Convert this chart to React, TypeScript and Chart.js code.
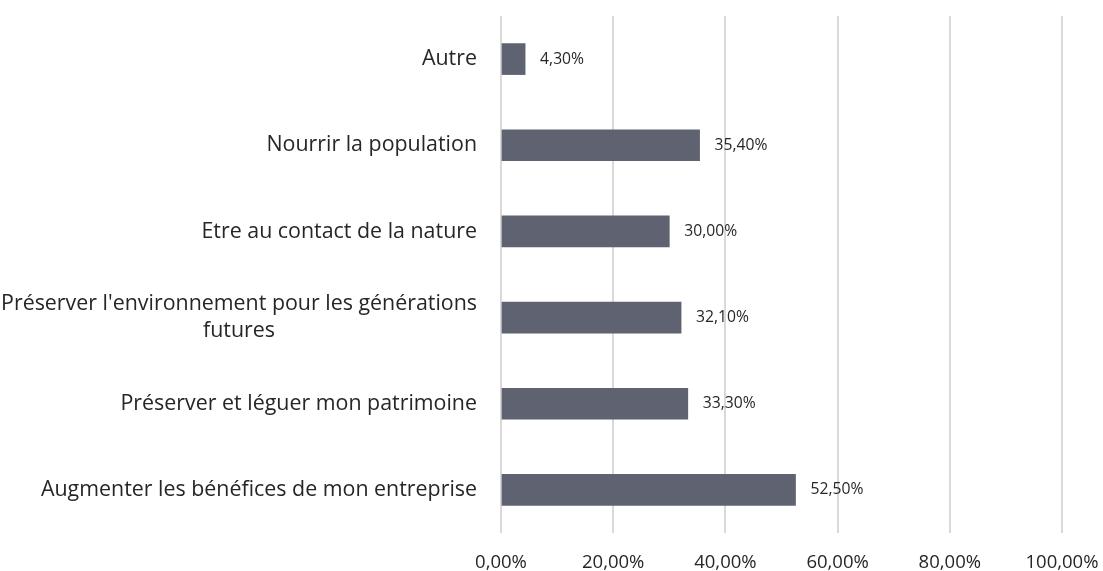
import React, { useEffect, useRef } from "react";
import { Chart, registerables } from "chart.js";

Chart.register(...registerables);

const categories: (string | string[])[] = [
  "Autre",
  "Nourrir la population",
  "Etre au contact de la nature",
  ["Préserver l'environnement pour les générations", "futures"],
  "Préserver et léguer mon patrimoine",
  "Augmenter les bénéfices de mon entreprise",
];

const values: number[] = [4.3, 35.4, 30.0, 32.1, 33.3, 52.5];

const xMin = 0;
const xMax = 100;
const xStep = 20;

const FONT = "'Open Sans', 'DejaVu Sans', sans-serif";
const BAR_COLOR = "#5f6271";
const TEXT_COLOR = "#262626";

const fmt = (v: number) => v.toFixed(2).replace(".", ",") + "%";

const categoryLabelPlugin = {
  id: "categoryLabels",
  afterDraw(chart: any) {
    const { ctx, chartArea } = chart;
    const yScale = chart.scales.y;
    const right = chartArea.left - 24;
    const lineH = 27;
    ctx.save();
    ctx.font = `21.4px ${FONT}`;
    ctx.fillStyle = TEXT_COLOR;
    ctx.textBaseline = "middle";
    categories.forEach((lab, i) => {
      const lines = Array.isArray(lab) ? lab : [lab];
      const cy = yScale.getPixelForValue(i);
      const widths = lines.map((l) => ctx.measureText(l).width);
      const maxW = Math.max(...widths);
      const cx = right - maxW / 2;
      const startY = cy - ((lines.length - 1) * lineH) / 2;
      lines.forEach((l, j) => {
        ctx.textAlign = lines.length > 1 ? "center" : "right";
        ctx.fillText(l, lines.length > 1 ? cx : right, startY + j * lineH);
      });
    });
    ctx.restore();
  },
};

const valueLabelPlugin = {
  id: "valueLabels",
  afterDatasetsDraw(chart: any) {
    const { ctx } = chart;
    const meta = chart.getDatasetMeta(0);
    ctx.save();
    ctx.font = `15.7px ${FONT}`;
    ctx.fillStyle = TEXT_COLOR;
    ctx.textAlign = "left";
    ctx.textBaseline = "middle";
    meta.data.forEach((bar: any, i: number) => {
      ctx.fillText(fmt(values[i]), bar.x + 15, bar.y);
    });
    ctx.restore();
  },
};

export default function App() {
  const canvasRef = useRef<HTMLCanvasElement | null>(null);

  useEffect(() => {
    if (!canvasRef.current) return;
    const chart = new Chart(canvasRef.current, {
      type: "bar",
      data: {
        labels: categories as any,
        datasets: [
          {
            data: values,
            backgroundColor: BAR_COLOR,
            borderWidth: 0,
            barThickness: 31,
          },
        ],
      },
      options: {
        indexAxis: "y",
        animation: false,
        responsive: false,
        layout: { padding: { left: 501, right: 41, top: 16, bottom: 0 } },
        plugins: {
          legend: { display: false },
          tooltip: { enabled: false },
        },
        scales: {
          y: { display: false },
          x: {
            min: xMin,
            max: xMax,
            ticks: {
              stepSize: xStep,
              padding: 19,
              color: TEXT_COLOR,
              font: { family: FONT, size: 18.5 },
              callback: (v: any) => fmt(Number(v)),
              maxRotation: 0,
            },
            grid: { color: "#d9d9d9", lineWidth: 2, drawTicks: false },
            border: { display: false },
            afterFit: (scale: any) => {
              scale.height = 38;
              scale.paddingLeft = 0;
              scale.paddingRight = 0;
            },
          },
        },
      },
      plugins: [categoryLabelPlugin, valueLabelPlugin],
    });
    return () => chart.destroy();
  }, []);

  return (
    <canvas
      ref={canvasRef}
      width={1103}
      height={571}
      style={{ position: "fixed", left: 0, top: 0, display: "block", background: "#fff" }}
    />
  );
}
